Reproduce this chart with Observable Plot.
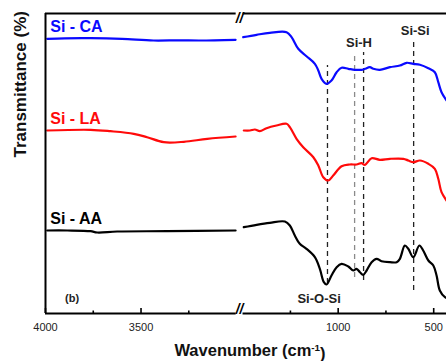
<!DOCTYPE html>
<html>
<head>
<meta charset="utf-8">
<script src="https://cdn.jsdelivr.net/npm/d3@7"></script>
<script src="https://cdn.jsdelivr.net/npm/@observablehq/plot@0.6"></script>
<style>
  html, body { margin: 0; padding: 0; background: #fff; }
  #chart svg { display: block; }
</style>
</head>
<body>
<div id="chart"></div>
<script>
// ---- data (wavenumber in cm^-1, transmittance in arbitrary offset units) ----
const seriesNames = ["Si - CA", "Si - LA", "Si - AA"];
const seriesColors = ["#0a0aff", "#ff0a0a", "#000000"];

const caSpectrum = [
  [3991, 274.7], [3900, 275.2], [3764, 275.3], [3600, 274.6], [3435, 273], [3300, 273.2], [3189, 273], [3005, 273.7],
  [1497, 276.3], [1427, 278.7], [1358, 280.7], [1270, 281.3], [1244, 276.3], [1209, 264.7], [1166, 257.3],
  [1122, 249.7], [1104, 243], [1087, 234.7], [1061, 229.7], [1035, 233], [1008, 241.3], [982, 245.7],
  [947, 244.7], [913, 243.7], [878, 243.7], [860, 244.7], [834, 246.3], [816, 244.7], [782, 243.7],
  [729, 246.3], [677, 248], [642, 250.7], [607, 249.7], [572, 248.7], [528, 245.3], [494, 241.3],
  [476, 231.3], [459, 221.3], [433, 213]
];
const laSpectrum = [
  [3991, 183], [3764, 183.7], [3660, 182.3], [3538, 179.7], [3468, 176.3], [3381, 171.3], [3276, 171.7],
  [3153, 174.7], [3005, 177],
  [1494, 183], [1462, 183], [1436, 184], [1410, 182.3], [1375, 185.3], [1323, 188], [1270, 189.7],
  [1253, 186.3], [1218, 174.7], [1183, 166.3], [1130, 156.3], [1104, 148], [1078, 136.3], [1052, 133],
  [1026, 138], [982, 147.3], [939, 149], [904, 149], [878, 150.3], [860, 148.7], [825, 155.3],
  [782, 153.7], [729, 154.7], [659, 154.7], [633, 153], [607, 151.3], [572, 153], [528, 149.7],
  [494, 144.7], [476, 134.7], [459, 121.3], [433, 113]
];
const aaSpectrum = [
  [3991, 83], [3886, 83], [3764, 82.3], [3729, 81], [3625, 82], [3363, 82.3], [3005, 83],
  [1494, 86.3], [1427, 88.7], [1358, 90.7], [1279, 92], [1253, 88], [1227, 78], [1201, 69.7],
  [1166, 64.7], [1122, 56.3], [1096, 44.7], [1075, 31.3], [1061, 29], [1035, 38], [1008, 46.3],
  [982, 49.7], [947, 47], [921, 43], [904, 44.7], [886, 41.3], [869, 38.7], [851, 43], [825, 51.3],
  [799, 54.7], [773, 52.3], [729, 51.3], [694, 51.3], [677, 54.7], [651, 68], [633, 64.7], [607, 56.3],
  [575, 68], [555, 63], [528, 53], [502, 48], [485, 38], [468, 23], [441, 16.3], [424, 15.3]
];

// dashed assignment lines
const bandWave   = [1056, 914, 867, 605];
const bandTop    = [248, 260, 261, 273];
const bandBottom = [30, 36, 33, 23];
const bandGray   = [false, true, false, false];

// annotation labels
const annLabels = ["Si-O-Si", "Si-H", "Si-Si", "(b)"];
const annWave   = [1100, 891, 597, 3861];
const annT      = [11, 267, 279, 11];

// axis ticks
const majorTicks = [4000, 3500, 1000, 500];
const minorTicks = [3750, 3250, 1250, 750];

// ---- broken axis: 4000–3000 | 1500–~430 ----
const leftEnd = 3000, rightStart = 1500, gapU = 32;
const brk = v => v >= 2000 ? 4000 - v : (4000 - leftEnd) + gapU + (rightStart - v);
const xMaxU = brk(433);
const breakU = (4000 - leftEnd) + gapU / 2;

const lines = [];
[caSpectrum, laSpectrum, aaSpectrum].forEach((s, i) => {
  s.forEach(([v, t]) => lines.push({series: seriesNames[i], seg: v >= 2000 ? "a" : "b", u: brk(v), t}));
});
const firstPts = [caSpectrum, laSpectrum, aaSpectrum].map((s, i) => ({name: seriesNames[i], u: brk(s[0][0]), t: s[0][1], color: seriesColors[i]}));
const bands = bandWave.map((v, i) => ({u: brk(v), top: bandTop[i], bottom: bandBottom[i], gray: bandGray[i]}));
const anns = annLabels.map((l, i) => ({label: l, u: brk(annWave[i]), t: annT[i]}));

const font = "'Liberation Sans', Arial, Helvetica, sans-serif";

const chart = Plot.plot({
  width: 446,
  height: 361,
  marginLeft: 45,
  marginRight: 0,
  marginTop: 13,
  marginBottom: 48,
  style: {fontFamily: font, background: "#fff"},
  x: {domain: [0, xMaxU], axis: null},
  y: {domain: [0, 300], axis: null},
  color: {domain: seriesNames, range: seriesColors},
  marks: [
    // dashed assignment lines
    Plot.ruleX(bands, {x: "u", y1: "bottom", y2: "top", stroke: d => d.gray ? "#8a8a8a" : "#222", strokeWidth: 1.3, strokeDasharray: "5,4"}),
    // spectra
    Plot.line(lines, {x: "u", y: "t", z: d => d.series + d.seg, stroke: "series", strokeWidth: 2.2, curve: "catmull-rom"}),
    // frame: left, top and bottom (broken)
    Plot.ruleX([0], {x: d => d, strokeWidth: 2}),
    Plot.ruleY([0, 300], {y: d => d, x1: 0, x2: brk(leftEnd) - 2, strokeWidth: 2}),
    Plot.ruleY([0, 300], {y: d => d, x1: brk(rightStart) + 2, x2: xMaxU, strokeWidth: 2}),
    Plot.text([breakU], {x: d => d, frameAnchor: "top", text: () => "//", fontSize: 14, fontWeight: "bold", fontStyle: "italic", letterSpacing: "-1px"}),
    Plot.text([breakU], {x: d => d, frameAnchor: "bottom", text: () => "//", fontSize: 14, fontWeight: "bold", fontStyle: "italic", letterSpacing: "-1px"}),
    // ticks (inward)
    Plot.tickX(majorTicks, {x: d => brk(d), insetTop: 295, strokeWidth: 1.6}),
    Plot.tickX(minorTicks, {x: d => brk(d), insetTop: 297.5, strokeWidth: 1.6}),
    Plot.text(majorTicks, {x: d => brk(d), frameAnchor: "bottom", text: d => String(d), lineAnchor: "top", dy: 10, fontSize: 11, fill: "#222"}),
    // axis titles
    Plot.text(["Wavenumber (cm-1)"], {frameAnchor: "bottom", text: d => d, lineAnchor: "middle", dy: 37, dx: 4, fontSize: 16.5, fontWeight: "bold", fill: "#111"}),
    Plot.text(["Transmittance (%)"], {frameAnchor: "left", text: d => d, rotate: -90, lineAnchor: "middle", dx: -24.5, dy: -6, fontSize: 17, fontWeight: "bold", fill: "#111"}),
    // series labels
    Plot.text(firstPts, {x: "u", y: "t", text: "name", fill: "color", textAnchor: "start", lineAnchor: "middle", dx: 3, dy: -12, fontSize: 16, fontWeight: "bold"}),
    // annotations
    Plot.text(anns, {x: "u", y: "t", text: "label", lineAnchor: "middle", dy: -4, fontSize: d => d.label === "(b)" ? 11 : 13, fontWeight: "bold", fill: "#222"})
  ]
});

// superscript for cm^-1
d3.select(chart).selectAll("text").each(function() {
  const el = d3.select(this);
  if (el.text() === "Wavenumber (cm-1)") {
    el.text("Wavenumber (cm");
    el.append("tspan").attr("dy", "-0.45em").attr("font-size", "0.6em").text("-1");
    el.append("tspan").attr("dy", "0.45em").text(")");
  }
});

document.getElementById("chart").appendChild(chart);
</script>
</body>
</html>
